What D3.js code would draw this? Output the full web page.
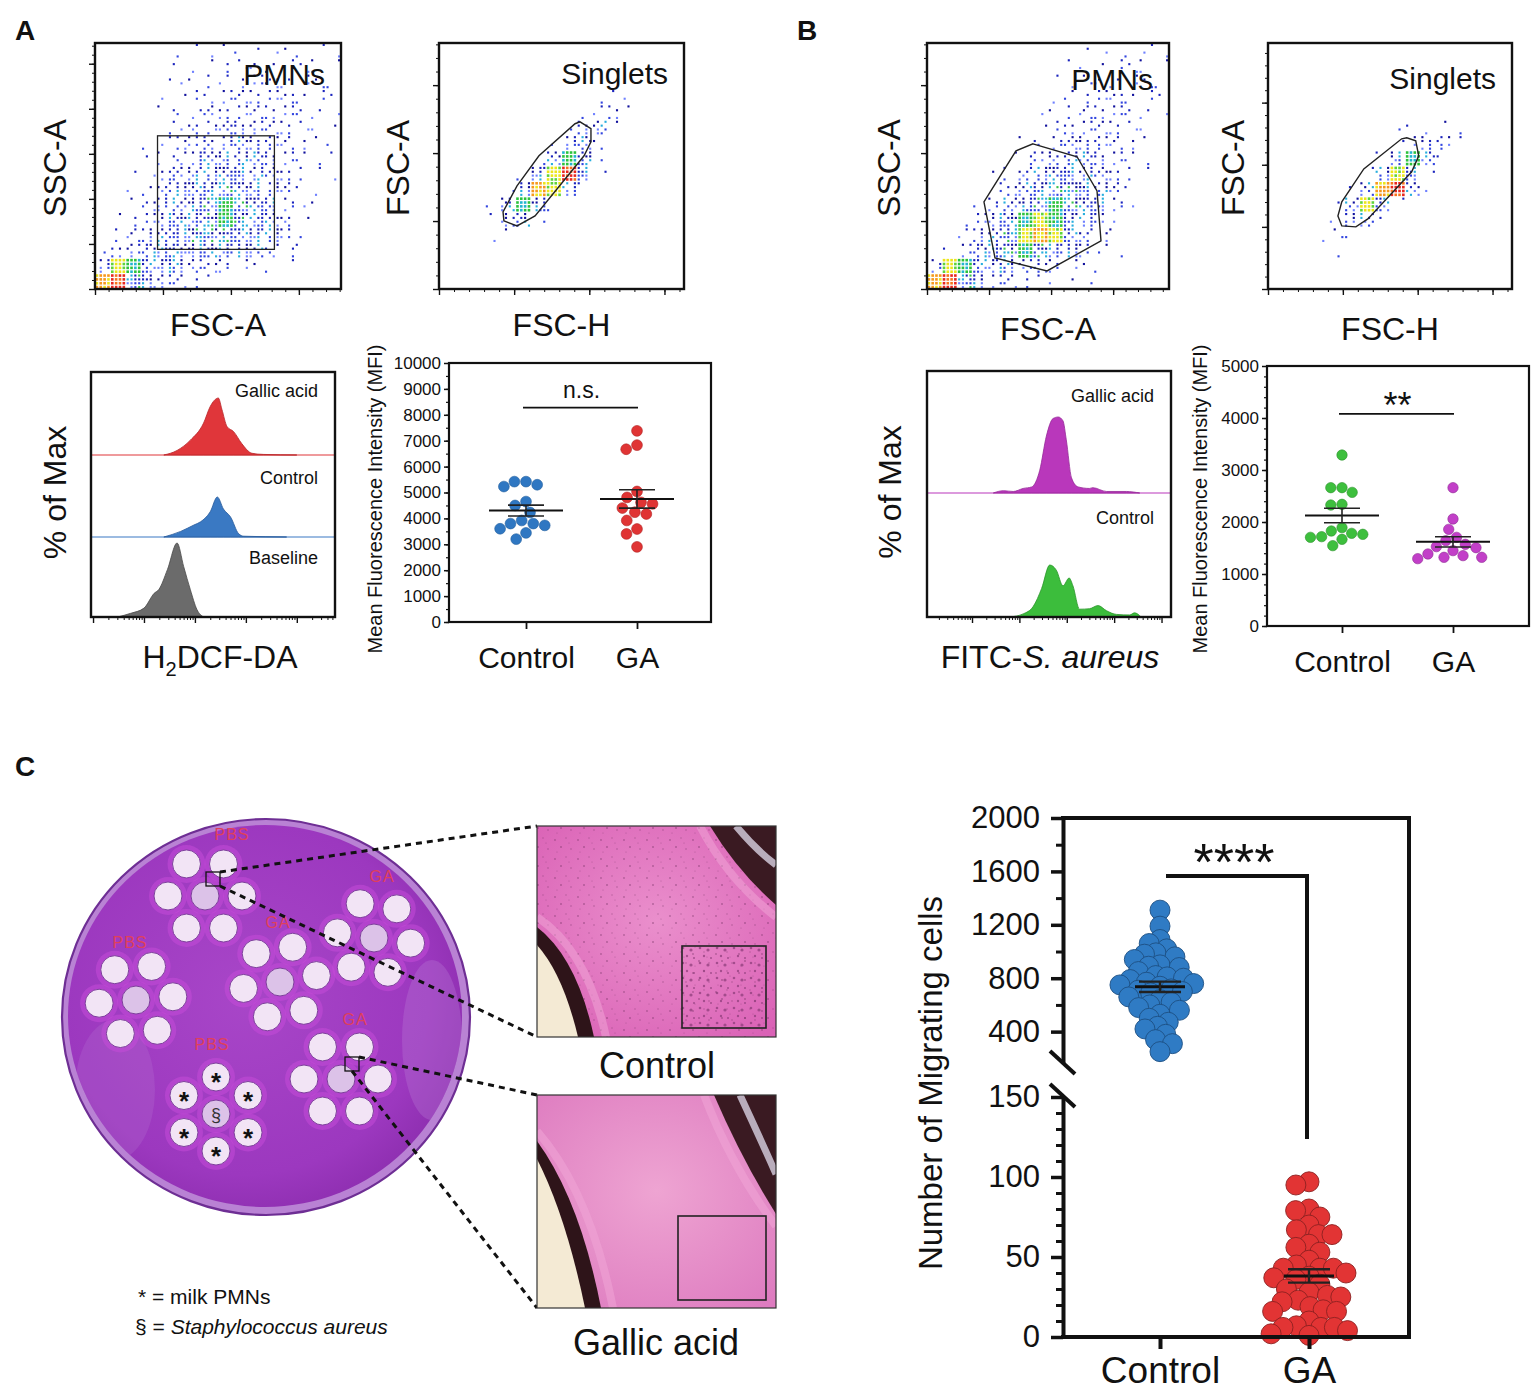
<!DOCTYPE html>
<html>
<head>
<meta charset="utf-8">
<title>Gallic acid and bovine milk PMNs</title>
<script src="https://cdn.jsdelivr.net/npm/d3@7"></script>
<style>
  body { margin: 0; background: #fff; }
  svg { display: block; font-family: "Liberation Sans", Arial, Helvetica, sans-serif; }
</style>
</head>
<body>
<div id="chart"></div>
<script>
// ---------------- data ----------------
var groups = ["Control", "GA"];

// A: H2DCF-DA mean fluorescence intensity
var rosControl = [5420, 5300, 5230, 5420, 4500, 4650, 4230, 3800, 3920, 3800, 3730, 3600, 3440, 3200];
var rosGA = [7380, 6670, 6830, 4810, 5040, 4560, 4620, 4400, 4240, 4170, 3920, 3590, 3400, 2900];
var rosTicks = [0, 1000, 2000, 3000, 4000, 5000, 6000, 7000, 8000, 9000, 10000];

// B: FITC-S. aureus mean fluorescence intensity
var phagoControl = [3288, 2570, 2660, 2660, 2327, 2340, 1827, 1763, 1705, 1891, 1782, 1718, 1667, 1545];
var phagoGA = [2660, 2058, 1859, 1705, 1641, 1571, 1506, 1526, 1449, 1385, 1353, 1321, 1295, 1321];
var phagoTicks = [0, 1000, 2000, 3000, 4000, 5000];

// C: number of migrating cells
var migControl = [1310, 1190, 1090, 1060, 1020, 990, 980, 960, 940, 900, 890, 880, 850, 820, 810, 800, 790, 770, 760, 750,
                  740, 720, 710, 700, 690, 660, 640, 620, 600, 580, 560, 530, 500, 470, 440, 420, 380, 340, 310, 250];
var migGA = [97, 95, 80, 79, 75, 70, 67, 64, 64, 58, 56, 53, 48, 45, 43, 43, 43, 40, 38, 37,
             36, 33, 30, 28, 26, 25, 23, 22, 19, 17, 16, 16, 10, 7, 6, 6, 6, 4, 2, 1];
var migTicksHigh = [400, 800, 1200, 1600, 2000];
var migTicksLow = [0, 50, 100, 150];

// histograms: [log10 fluorescence, fraction of max]
var histGallicA = [[2.39, 0], [2.65, 0.08], [2.91, 0.26], [3.17, 0.56], [3.30, 0.85], [3.46, 1.0], [3.53, 0.8],
                   [3.63, 0.5], [3.76, 0.41], [3.92, 0.2], [4.12, 0.03], [4.35, 0.01], [5.0, 0]];
var histControlA = [[2.39, 0], [2.72, 0.14], [2.98, 0.3], [3.11, 0.38], [3.30, 0.63], [3.44, 1.0], [3.56, 0.7],
                    [3.70, 0.5], [3.86, 0.08], [3.96, 0.02], [4.80, 0]];
var histBaselineA = [[1.48, 0], [1.74, 0.05], [2.0, 0.12], [2.20, 0.32], [2.29, 0.37], [2.46, 0.64], [2.65, 1.0],
                     [2.78, 0.68], [2.91, 0.37], [3.04, 0.1], [3.17, 0]];
var histGallicB = [[1.45, 0], [1.66, 0.03], [1.87, 0.02], [2.08, 0.06], [2.26, 0.08], [2.43, 0.3], [2.57, 0.75],
                   [2.71, 0.98], [2.82, 1.0], [2.92, 0.95], [2.99, 0.7], [3.10, 0.2], [3.24, 0.08], [3.48, 0.06],
                   [3.55, 0.07], [3.84, 0.02], [4.26, 0.02], [4.54, 0]];
var histControlB = [[1.8, 0], [2.08, 0.06], [2.29, 0.2], [2.47, 0.55], [2.64, 1.0], [2.78, 0.9], [2.92, 0.6],
                    [3.05, 0.75], [3.13, 0.6], [3.27, 0.15], [3.48, 0.16], [3.66, 0.22], [3.84, 0.12], [4.05, 0.05],
                    [4.33, 0.04], [4.43, 0.08], [4.57, 0]];

// flow cytometry event density, 16 x 16 grid, top row first
// ' ' none, 1-9 blue density, g/y/o/r = green, yellow, orange, red
var densA1 = [
  "     11111111111",
  "     11122222221",
  "    111222332221",
  "    112233333221",
  "    122333333221",
  "    123344433211",
  "   1233445443211",
  "   1234555543211",
  "  11345566543211",
  "  1245667654311 ",
  "  134567g765311 ",
  " 1235667g76531  ",
  " 2345677766531  ",
  "13456666655321  ",
  "4yg6654332111   ",
  "or864321        "
];
var densA2 = [
  "                ",
  "                ",
  "                ",
  "          111   ",
  "         1231   ",
  "        1451    ",
  "       1452     ",
  "      15g61     ",
  "     16yr61     ",
  "    15oy51      ",
  "   15g61        ",
  "   1451         ",
  "   11           ",
  "                ",
  "                ",
  "                "
];
var densB1 = [
  "          11 121",
  "         1112221",
  "        11222221",
  "        12233221",
  "       112333221",
  "       12333321 ",
  "      123444321 ",
  "     1234554321 ",
  "    12456654321 ",
  "    2356776531  ",
  "   13567g76531  ",
  "  1356gyg6531   ",
  "  2457yoy6421   ",
  " 13567g765321   ",
  "3yg655443211    ",
  "or753321111     "
];
var densB2 = [
  "                ",
  "                ",
  "                ",
  "                ",
  "                ",
  "        11111   ",
  "        12441   ",
  "       15g51    ",
  "      15y61     ",
  "     15or51     ",
  "    15y61       ",
  "    1451        ",
  "   121          ",
  "    1           ",
  "                ",
  "                "
];

// gates, in axis units (x1000)
var gateA1 = [[46, 44], [132, 170]];
var gateA2 = [[43.2, 50.1], [51.9, 46.4], [63.9, 53.8], [96.5, 98.0], [101.1, 108.3], [101.1, 117.9],
              [93.8, 123.0], [90.5, 121.6], [66.5, 98.0], [51.9, 75.9], [42.6, 56.7]];
var gateB1 = [[85.4, 106.8], [120.9, 97.3], [137.0, 72.2], [140.2, 35.4], [96.7, 13.3], [54.8, 22.8],
              [45.9, 64.1], [71.7, 101.7]];
var gateB2 = [[49.3, 50.8], [58.7, 50.0], [66.7, 56.4], [96.0, 94.3], [100.7, 107.2], [98.7, 119.2],
              [92.7, 121.7], [89.3, 120.9], [64.0, 96.7], [49.3, 70.1], [46.7, 58.8]];
var flowTicks = [0, 50, 100, 150, 200, 250];

// ---------------- setup ----------------
var svg = d3.select("#chart").append("svg").attr("width", 1536).attr("height", 1394);
var defs = svg.append("defs");
var plain = d3.format("d");

function label(x, y, s, size, anchor, rot) {
  var t = svg.append("text").attr("x", x).attr("y", y).attr("font-size", size)
    .attr("text-anchor", anchor || "middle").attr("fill", "#111").text(s);
  if (rot) t.attr("transform", "rotate(" + rot + "," + x + "," + y + ")");
  return t;
}

function tidy(sel, w) {
  sel.select(".domain").remove();
  sel.selectAll(".tick line").attr("stroke", "#111").attr("stroke-width", w || 1.3);
}

// panel letters
label(15, 40, "A", 28, "start").attr("font-weight", "bold");
label(797, 40, "B", 28, "start").attr("font-weight", "bold");
label(15, 776, "C", 28, "start").attr("font-weight", "bold");

// ---------------- flow dot plots ----------------
var bayer = [0, 8, 2, 10, 12, 4, 14, 6, 3, 11, 1, 9, 15, 7, 13, 5];
var slots = d3.range(16).sort(function (a, b) { return bayer[a] - bayer[b]; });
var dotsPerLevel = [0, 1, 2, 4, 6, 8, 10, 12, 14, 16];
var blues = ["#11119c", "#3346e0", "#1b24bd", "#6f80ff"];
var hot = { g: ["#2cc23c", "#22b5cf"], y: ["#ece61a", "#5fd33a"], o: ["#f6981c", "#ece61a"], r: ["#e8261e", "#f6721c"] };

function flowPlot(o) {
  var x = d3.scaleLinear().domain([0, o.xMax]).range([o.x0, o.x1]);
  var y = d3.scaleLinear().domain([0, o.yMax]).range([o.y1, o.y0]);
  var g = svg.append("g");
  var nc = 16, nr = o.dens.length;
  var cw = o.xMax / nc, rh = o.yMax / nr;
  var dots = [];
  o.dens.forEach(function (row, i) {
    row.split("").forEach(function (c, j) {
      if (c === " ") return;
      var px0 = x(j * cw), px1 = x((j + 1) * cw);
      var py0 = y(o.yMax - i * rh), py1 = y(o.yMax - (i + 1) * rh);
      var sw = (px1 - px0) / 4, sh = (py1 - py0) / 4;
      var isHot = hot[c] !== undefined;
      var n = isHot ? 16 : dotsPerLevel[+c];
      var shift = (i * 5 + j * 11) % 16;   // vary the dither start between cells
      for (var k = 0; k < n; k++) {
        var s = slots[(k + shift) % 16], col;
        if (isHot) col = hot[c][k % 3 === 2 ? 1 : 0];
        else if (+c >= 7 && k % 5 === 4) col = "#37c24a";
        else if (+c >= 5 && k % 4 === 3) col = "#27aede";
        else col = blues[(k + i + j) % 4];
        dots.push({ x: px0 + (s % 4 + 0.5) * sw, y: py0 + (Math.floor(s / 4) + 0.5) * sh, c: col, s: isHot ? 2.6 : 2.1 });
      }
    });
  });
  g.selectAll("rect.ev").data(dots).enter().append("rect")
    .attr("class", "ev")
    .attr("x", function (d) { return d.x - d.s / 2; })
    .attr("y", function (d) { return d.y - d.s / 2; })
    .attr("width", function (d) { return d.s; })
    .attr("height", function (d) { return d.s; })
    .attr("fill", function (d) { return d.c; });

  if (o.gateRect) {
    g.append("rect")
      .attr("x", x(o.gateRect[0][0])).attr("y", y(o.gateRect[1][1]))
      .attr("width", x(o.gateRect[1][0]) - x(o.gateRect[0][0]))
      .attr("height", y(o.gateRect[0][1]) - y(o.gateRect[1][1]))
      .attr("fill", "none").attr("stroke", "#222").attr("stroke-width", 1.3);
  } else {
    var line = d3.line().x(function (d) { return x(d[0]); }).y(function (d) { return y(d[1]); });
    g.append("path").attr("d", line(o.gate) + "Z")
      .attr("fill", "none").attr("stroke", "#222").attr("stroke-width", 1.4);
  }

  g.append("rect").attr("x", o.x0).attr("y", o.y0).attr("width", o.x1 - o.x0).attr("height", o.y1 - o.y0)
    .attr("fill", "none").attr("stroke", "#111").attr("stroke-width", 2.4);

  var xMajor = flowTicks.filter(function (v) { return v <= o.xMax; });
  var yMajor = flowTicks.filter(function (v) { return v <= o.yMax; });
  g.append("g").attr("transform", "translate(0," + o.y1 + ")")
    .call(d3.axisBottom(x).tickValues(d3.range(0, o.xMax, 10)).tickSize(3).tickFormat("").tickSizeOuter(0)).call(tidy, 1);
  g.append("g").attr("transform", "translate(0," + o.y1 + ")")
    .call(d3.axisBottom(x).tickValues(xMajor).tickSize(6).tickFormat("").tickSizeOuter(0)).call(tidy, 1.4);
  g.append("g").attr("transform", "translate(" + o.x0 + ",0)")
    .call(d3.axisLeft(y).tickValues(d3.range(0, o.yMax, 10)).tickSize(3).tickFormat("").tickSizeOuter(0)).call(tidy, 1);
  g.append("g").attr("transform", "translate(" + o.x0 + ",0)")
    .call(d3.axisLeft(y).tickValues(yMajor).tickSize(6).tickFormat("").tickSizeOuter(0)).call(tidy, 1.4);

  label(o.x1 - 16, o.nameY, o.name, 30, "end");
  label((o.x0 + o.x1) / 2, o.xLabY, o.xLab, 32);
  label(o.yLabX, (o.y0 + o.y1) / 2 + 2, o.yLab, 32, "middle", -90);
}

flowPlot({ x0: 95, x1: 341, y0: 43, y1: 289, xMax: 181, yMax: 273, dens: densA1, gateRect: gateA1,
  name: "PMNs", nameY: 85, xLab: "FSC-A", xLabY: 336, yLab: "SSC-A", yLabX: 66 });
flowPlot({ x0: 439, x1: 684, y0: 43, y1: 289, xMax: 163, yMax: 181, dens: densA2, gate: gateA2,
  name: "Singlets", nameY: 84, xLab: "FSC-H", xLabY: 336, yLab: "FSC-A", yLabX: 409 });
flowPlot({ x0: 927, x1: 1169, y0: 43, y1: 289, xMax: 195, yMax: 181, dens: densB1, gate: gateB1,
  name: "PMNs", nameY: 90, xLab: "FSC-A", xLabY: 340, yLab: "SSC-A", yLabX: 900 });
flowPlot({ x0: 1268, x1: 1512, y0: 43, y1: 289, xMax: 163, yMax: 198, dens: densB2, gate: gateB2,
  name: "Singlets", nameY: 89, xLab: "FSC-H", xLabY: 340, yLab: "FSC-A", yLabX: 1244 });

// ---------------- histograms ----------------
function histPanel(o) {
  var x = d3.scaleLinear().domain(o.dom).range([o.x0, o.x1]);
  var g = svg.append("g");
  defs.append("clipPath").attr("id", o.id).append("rect")
    .attr("x", o.x0).attr("y", o.y0).attr("width", o.x1 - o.x0).attr("height", o.y1 - o.y0);
  var layer = g.append("g").attr("clip-path", "url(#" + o.id + ")");
  o.tracks.forEach(function (t) {
    var y = d3.scaleLinear().domain([0, 1]).range([t.base, t.base - t.h]);
    var area = d3.area().x(function (d) { return x(d[0]); }).y0(t.base)
      .y1(function (d) { return y(d[1]); }).curve(d3.curveMonotoneX);
    if (t.line) {
      layer.append("line").attr("x1", o.x0).attr("x2", o.x1).attr("y1", t.base).attr("y2", t.base)
        .attr("stroke", t.color).attr("stroke-width", 1.2);
    }
    layer.append("path").datum(t.data).attr("d", area)
      .attr("fill", t.color).attr("stroke", t.edge).attr("stroke-width", 0.8);
    label(o.x1 - 17, t.labY, t.name, 18, "end");
  });
  g.append("rect").attr("x", o.x0).attr("y", o.y0).attr("width", o.x1 - o.x0).attr("height", o.y1 - o.y0)
    .attr("fill", "none").attr("stroke", "#111").attr("stroke-width", 2.4);
  var majors = [], minors = [];
  for (var k = 0; k <= 6; k++) {
    if (k >= o.dom[0] && k <= o.dom[1]) majors.push(k);
    for (var m = 2; m <= 9; m++) {
      var v = k + Math.log10(m);
      if (v >= o.dom[0] && v <= o.dom[1]) minors.push(v);
    }
  }
  g.append("g").attr("transform", "translate(0," + o.y1 + ")")
    .call(d3.axisBottom(x).tickValues(minors).tickSize(3).tickFormat("").tickSizeOuter(0)).call(tidy, 1);
  g.append("g").attr("transform", "translate(0," + o.y1 + ")")
    .call(d3.axisBottom(x).tickValues(majors).tickSize(6).tickFormat("").tickSizeOuter(0)).call(tidy, 1.4);
  label(o.yLabX, (o.y0 + o.y1) / 2 - 2, "% of Max", 32, "middle", -90);
}

histPanel({ id: "clipHA", x0: 91, x1: 335, y0: 372, y1: 617, dom: [0.96, 5.75], yLabX: 66,
  tracks: [
    { data: histGallicA, base: 455, h: 57, color: "#e0363a", edge: "#b8262a", line: true, name: "Gallic acid", labY: 397 },
    { data: histControlA, base: 537, h: 40, color: "#3a79c3", edge: "#285a9a", line: true, name: "Control", labY: 484 },
    { data: histBaselineA, base: 617, h: 74, color: "#6b6b6b", edge: "#4a4a4a", line: false, name: "Baseline", labY: 564 }
  ] });
histPanel({ id: "clipHB", x0: 927, x1: 1171, y0: 371, y1: 617, dom: [0.05, 5.2], yLabX: 901,
  tracks: [
    { data: histGallicB, base: 493, h: 76, color: "#b937bb", edge: "#962a98", line: true, name: "Gallic acid", labY: 402 },
    { data: histControlB, base: 617, h: 52, color: "#3cbd3c", edge: "#2a962a", line: false, name: "Control", labY: 524 }
  ] });

var h2 = label(220, 668, "", 32);
h2.append("tspan").text("H");
h2.append("tspan").attr("font-size", 20).attr("dy", 8).text("2");
h2.append("tspan").attr("dy", -8).text("DCF-DA");
var fitc = label(1050, 668, "", 32);
fitc.append("tspan").text("FITC-");
fitc.append("tspan").attr("font-style", "italic").text("S. aureus");

// ---------------- MFI dot plots ----------------
function beeswarm(values, y, diam) {
  var pts = values.map(function (v) { return { v: v, y: y(v), dx: 0 }; });
  var order = pts.slice().sort(function (a, b) { return a.y - b.y; });
  var placed = [];
  order.forEach(function (p) {
    var blocked = [];
    placed.forEach(function (q) {
      var dy = Math.abs(q.y - p.y);
      if (dy < diam) {
        var w = Math.sqrt(diam * diam - dy * dy);
        blocked.push([q.dx - w, q.dx + w]);
      }
    });
    var cands = [0];
    blocked.forEach(function (b) { cands.push(b[0], b[1]); });
    cands.sort(function (a, b) { return Math.abs(a) - Math.abs(b) || a - b; });
    for (var i = 0; i < cands.length; i++) {
      var c = cands[i];
      var ok = blocked.every(function (b) { return c <= b[0] + 1e-6 || c >= b[1] - 1e-6; });
      if (ok) { p.dx = c; break; }
    }
    placed.push(p);
  });
  return pts;
}

function meanSem(g, vals, y, cxp, halfMean, halfCap, w) {
  var m = d3.mean(vals), se = d3.deviation(vals) / Math.sqrt(vals.length);
  g.append("line").attr("x1", cxp - halfMean).attr("x2", cxp + halfMean).attr("y1", y(m)).attr("y2", y(m))
    .attr("stroke", "#111").attr("stroke-width", w);
  [m - se, m + se].forEach(function (v) {
    g.append("line").attr("x1", cxp - halfCap).attr("x2", cxp + halfCap).attr("y1", y(v)).attr("y2", y(v))
      .attr("stroke", "#222").attr("stroke-width", w * 0.8);
  });
  g.append("line").attr("x1", cxp).attr("x2", cxp).attr("y1", y(m - se)).attr("y2", y(m + se))
    .attr("stroke", "#222").attr("stroke-width", w * 0.8);
}

function dotPlot(o) {
  var x = d3.scalePoint().domain(groups).range([o.c0, o.c1]);
  var y = d3.scaleLinear().domain([0, o.yMax]).range([o.bottom, o.top]);
  var g = svg.append("g");
  g.append("rect").attr("x", o.left).attr("y", o.top).attr("width", o.right - o.left).attr("height", o.bottom - o.top)
    .attr("fill", "none").attr("stroke", "#111").attr("stroke-width", 2.2);
  g.append("g").attr("transform", "translate(" + o.left + ",0)")
    .call(d3.axisLeft(y).tickValues(d3.range(0, o.yMax, o.minor)).tickSize(3).tickFormat("").tickSizeOuter(0)).call(tidy, 1.2);
  var ay = g.append("g").attr("transform", "translate(" + o.left + ",0)")
    .call(d3.axisLeft(y).tickValues(o.ticks).tickFormat(plain).tickSize(5).tickPadding(3).tickSizeOuter(0));
  ay.call(tidy, 1.5);
  ay.selectAll("text").attr("font-size", 17).attr("font-family", null).attr("fill", "#111");
  var ax = g.append("g").attr("transform", "translate(0," + o.bottom + ")")
    .call(d3.axisBottom(x).tickSize(7).tickPadding(18).tickSizeOuter(0));
  ax.call(tidy, 1.8);
  ax.selectAll("text").attr("font-size", 30).attr("font-family", null).attr("fill", "#111");

  [o.ctrl, o.ga].forEach(function (vals, gi) {
    var cxp = x(groups[gi]);
    var pts = beeswarm(vals, y, 2 * o.r + 0.8);
    g.selectAll(null).data(pts).enter().append("circle")
      .attr("cx", function (d) { return cxp + d.dx; })
      .attr("cy", function (d) { return d.y; })
      .attr("r", o.r)
      .attr("fill", o.colors[gi]).attr("stroke", o.edges[gi]).attr("stroke-width", 0.6);
    meanSem(g, vals, y, cxp, 37, 18, 2);
  });
  g.append("line").attr("x1", x("Control") - 3).attr("x2", x("GA") + 1).attr("y1", y(o.barAt)).attr("y2", y(o.barAt))
    .attr("stroke", "#111").attr("stroke-width", 1.8);
  label((x("Control") + x("GA")) / 2, o.sigY, o.sig, o.sigSize);
  label(o.titleX, 499, "Mean Fluorescence Intensity (MFI)", 20, "middle", -90);
}

dotPlot({ left: 449, right: 711, top: 363, bottom: 622, c0: 526, c1: 637, yMax: 10000, ticks: rosTicks, minor: 500,
  ctrl: rosControl, ga: rosGA, r: 5.4, colors: ["#2f77c2", "#e03434"], edges: ["#235f9e", "#b02424"],
  barAt: 8280, sig: "n.s.", sigY: 398, sigSize: 23, titleX: 382 });
dotPlot({ left: 1267, right: 1529, top: 366, bottom: 626, c0: 1342, c1: 1453, yMax: 5000, ticks: phagoTicks, minor: 200,
  ctrl: phagoControl, ga: phagoGA, r: 5.2, colors: ["#3dbf3d", "#c23fc8"], edges: ["#2a902a", "#8e2c94"],
  barAt: 4080, sig: "**", sigY: 418, sigSize: 36, titleX: 1207 });

// ---------------- C: migrating cells ----------------
var cxs = d3.scalePoint().domain(groups).range([1160, 1309]);
var yHigh = d3.scaleLinear().domain([165, 2000]).range([1063, 818]);
var yLow = d3.scaleLinear().domain([0, 150]).range([1337, 1097]);
var gc = svg.append("g");

[[migControl, yHigh, "#2f7bc4", "#1d4f82", 11.5], [migGA, yLow, "#e23434", "#8c2020", 13.5]].forEach(function (s, gi) {
  var cxp = cxs(groups[gi]);
  var pts = beeswarm(s[0], s[1], s[4]);
  gc.selectAll(null).data(pts).enter().append("circle")
    .attr("cx", function (d) { return cxp + d.dx; })
    .attr("cy", function (d) { return d.y; })
    .attr("r", 10)
    .attr("fill", s[2]).attr("stroke", s[3]).attr("stroke-width", 0.9);
  meanSem(gc, s[0], s[1], cxp, 25, 21, 3);
});

gc.append("path").attr("d", "M1063,818H1409V1337H1063")
  .attr("fill", "none").attr("stroke", "#111").attr("stroke-width", 4).attr("stroke-linecap", "square");

var axHigh = gc.append("g").attr("transform", "translate(1063,0)")
  .call(d3.axisLeft(yHigh).tickValues(migTicksHigh).tickFormat(plain).tickSize(12).tickPadding(11).tickSizeOuter(0));
var axLow = gc.append("g").attr("transform", "translate(1063,0)")
  .call(d3.axisLeft(yLow).tickValues(migTicksLow).tickFormat(plain).tickSize(12).tickPadding(11).tickSizeOuter(0));
[axHigh, axLow].forEach(function (a) {
  a.select(".domain").attr("stroke", "#111").attr("stroke-width", 4);
  a.selectAll(".tick line").attr("stroke", "#111").attr("stroke-width", 3.5);
  a.selectAll("text").attr("font-size", 31).attr("font-family", null).attr("fill", "#111");
});
gc.append("g").attr("transform", "translate(1063,0)")
  .call(d3.axisLeft(yHigh).tickValues([600, 1000, 1400, 1800]).tickSize(7).tickFormat("").tickSizeOuter(0)).call(tidy, 3);
gc.append("g").attr("transform", "translate(1063,0)")
  .call(d3.axisLeft(yLow).tickValues(d3.range(10, 150, 10).filter(function (v) { return v % 50 !== 0; }))
    .tickSize(7).tickFormat("").tickSizeOuter(0)).call(tidy, 3);

// axis break marks
[[1051, 1074], [1084, 1107]].forEach(function (b) {
  gc.append("line").attr("x1", 1050).attr("x2", 1075).attr("y1", b[0]).attr("y2", b[1])
    .attr("stroke", "#111").attr("stroke-width", 4);
});

var axC = gc.append("g").attr("transform", "translate(0,1337)")
  .call(d3.axisBottom(cxs).tickSize(12).tickPadding(8).tickSizeOuter(0));
axC.call(tidy, 4);
axC.selectAll("text").attr("font-size", 37).attr("font-family", null).attr("fill", "#111");

gc.append("path").attr("d", "M1166,876H1307V1139").attr("fill", "none").attr("stroke", "#111").attr("stroke-width", 4);
label(1234, 880, "****", 52);
label(942, 1083, "Number of Migrating cells", 33, "middle", -90);

// ---------------- C: chemotaxis plate (illustration) ----------------
var rg = defs.append("radialGradient").attr("id", "dishFill").attr("cx", "45%").attr("cy", "45%").attr("r", "62%");
rg.append("stop").attr("offset", "0%").attr("stop-color", "#a846c8");
rg.append("stop").attr("offset", "75%").attr("stop-color", "#9c38bf");
rg.append("stop").attr("offset", "100%").attr("stop-color", "#8a2cac");
defs.append("clipPath").attr("id", "dishClip").append("ellipse")
  .attr("cx", 265).attr("cy", 1016).attr("rx", 197).attr("ry", 191);

var plate = svg.append("g");
plate.append("ellipse").attr("cx", 266).attr("cy", 1017).attr("rx", 204).attr("ry", 198)
  .attr("fill", "#b982d4").attr("stroke", "#6e2e94").attr("stroke-width", 2.2);
plate.append("ellipse").attr("cx", 265).attr("cy", 1016).attr("rx", 197).attr("ry", 191).attr("fill", "url(#dishFill)");
var sheen = plate.append("g").attr("clip-path", "url(#dishClip)");
sheen.append("ellipse").attr("cx", 432).attr("cy", 1040).attr("rx", 30).attr("ry", 80)
  .attr("fill", "#b878d4").attr("opacity", 0.35);
sheen.append("ellipse").attr("cx", 115).attr("cy", 1090).attr("rx", 40).attr("ry", 70)
  .attr("fill", "#b878d4").attr("opacity", 0.25);

var wellGroups = [
  { cx: 205, cy: 896, rot: 0, tag: "PBS", tx: 232, ty: 840 },
  { cx: 374, cy: 938, rot: 8, tag: "GA", tx: 382, ty: 882 },
  { cx: 136, cy: 1000, rot: -5, tag: "PBS", tx: 130, ty: 948 },
  { cx: 280, cy: 982, rot: -10, tag: "GA", tx: 278, ty: 928 },
  { cx: 341, cy: 1079, rot: 0, tag: "GA", tx: 355, ty: 1025 },
  { cx: 216, cy: 1114, rot: 30, tag: "PBS", tx: 212, ty: 1050, marks: true }
];
wellGroups.forEach(function (wg) {
  var wells = [{ x: wg.cx, y: wg.cy, mid: true }];
  for (var k = 0; k < 6; k++) {
    var a = (wg.rot + k * 60) * Math.PI / 180;
    wells.push({ x: wg.cx + 37 * Math.cos(a), y: wg.cy + 37 * Math.sin(a), mid: false });
  }
  wells.forEach(function (w) {
    plate.append("circle").attr("cx", w.x).attr("cy", w.y).attr("r", 19).attr("fill", "#c84cda").attr("opacity", 0.5);
  });
  wells.forEach(function (w) {
    plate.append("circle").attr("cx", w.x).attr("cy", w.y).attr("r", 14)
      .attr("fill", w.mid ? "#dcc2e8" : "#f2e4f5").attr("stroke", "#7e3f9c").attr("stroke-width", 1);
    if (wg.marks) {
      if (w.mid) plate.append("text").attr("x", w.x).attr("y", w.y + 7).attr("text-anchor", "middle")
        .attr("font-size", 18).attr("fill", "#333").text("§");
      else plate.append("text").attr("x", w.x).attr("y", w.y + 14).attr("text-anchor", "middle")
        .attr("font-size", 26).attr("font-weight", "bold").attr("fill", "#111").text("*");
    }
  });
  plate.append("text").attr("x", wg.tx).attr("y", wg.ty).attr("text-anchor", "middle")
    .attr("font-size", 16).attr("letter-spacing", 1).attr("fill", "#e0405a").text(wg.tag);
});

// selected regions on plate and zoom lines
plate.append("rect").attr("x", 206).attr("y", 872).attr("width", 14).attr("height", 14)
  .attr("fill", "none").attr("stroke", "#111").attr("stroke-width", 1.3);
plate.append("rect").attr("x", 345).attr("y", 1057).attr("width", 14).attr("height", 14)
  .attr("fill", "none").attr("stroke", "#111").attr("stroke-width", 1.3);
[[220, 872, 537, 826], [220, 886, 537, 1037], [359, 1057, 537, 1095], [352, 1071, 537, 1308]].forEach(function (l) {
  plate.append("line").attr("x1", l[0]).attr("y1", l[1]).attr("x2", l[2]).attr("y2", l[3])
    .attr("stroke", "#111").attr("stroke-width", 3).attr("stroke-dasharray", "6,5");
});

// micrographs: pink membrane between two dark well edges
var pinkGrad = defs.append("radialGradient").attr("id", "pinkGrad").attr("cx", "50%").attr("cy", "45%").attr("r", "70%");
pinkGrad.append("stop").attr("offset", "0%").attr("stop-color", "#ea8fcc");
pinkGrad.append("stop").attr("offset", "100%").attr("stop-color", "#da62b6");
var pinkGrad2 = defs.append("radialGradient").attr("id", "pinkGrad2").attr("cx", "50%").attr("cy", "45%").attr("r", "70%");
pinkGrad2.append("stop").attr("offset", "0%").attr("stop-color", "#eea4d2");
pinkGrad2.append("stop").attr("offset", "100%").attr("stop-color", "#de7cc0");
var speck = defs.append("pattern").attr("id", "specks").attr("patternUnits", "userSpaceOnUse")
  .attr("width", 23).attr("height", 19);
[[3, 4, 0.9], [14, 2, 0.7], [9, 11, 1.0], [19, 13, 0.8], [5, 16, 0.6], [17, 7, 0.6]].forEach(function (p) {
  speck.append("circle").attr("cx", p[0]).attr("cy", p[1]).attr("r", p[2]).attr("fill", "#6a2a5a").attr("opacity", 0.75);
});
var speckBig = defs.append("pattern").attr("id", "specksBig").attr("patternUnits", "userSpaceOnUse")
  .attr("width", 17).attr("height", 15);
[[3, 3, 1.3], [11, 5, 1.6], [7, 11, 1.2], [14, 13, 1.0]].forEach(function (p) {
  speckBig.append("circle").attr("cx", p[0]).attr("cy", p[1]).attr("r", p[2]).attr("fill", "#8a3a78").attr("opacity", 0.7);
});

function micrograph(id, x0, y0, w, h, fill, tr, bl, specks) {
  var x1 = x0 + w, y1 = y0 + h;
  defs.append("clipPath").attr("id", id).append("rect").attr("x", x0).attr("y", y0).attr("width", w).attr("height", h);
  var g = svg.append("g").attr("clip-path", "url(#" + id + ")");
  g.append("rect").attr("x", x0).attr("y", y0).attr("width", w).attr("height", h).attr("fill", fill);
  if (specks) g.append("rect").attr("x", x0).attr("y", y0).attr("width", w).attr("height", h).attr("fill", "url(#specks)").attr("opacity", 0.55);
  // top-right well edge: tr = [x at top, ctrl x, ctrl y, y at right edge]
  var trPath = "M" + tr[0] + "," + y0 + "Q" + tr[1] + "," + tr[2] + " " + x1 + "," + tr[3];
  g.append("path").attr("d", trPath + "L" + x1 + "," + y0 + "Z").attr("fill", "#3a1a22");
  g.append("path").attr("d", "M" + (tr[0] + 26) + "," + y0 + "Q" + (tr[1] + 18) + "," + (tr[2] - 22) + " " + x1 + "," + (tr[3] - 40))
    .attr("fill", "none").attr("stroke", "#d9d2e4").attr("stroke-width", 7).attr("opacity", 0.8);
  g.append("path").attr("d", "M" + (tr[0] - 10) + "," + y0 + "Q" + (tr[1] - 10) + "," + (tr[2] + 8) + " " + x1 + "," + (tr[3] + 12))
    .attr("fill", "none").attr("stroke", "#f2a8d8").attr("stroke-width", 8).attr("opacity", 0.5);
  // bottom-left well edge: bl = [y at left edge, ctrl x, ctrl y, x at bottom]
  var blPath = "M" + x0 + "," + bl[0] + "Q" + bl[1] + "," + bl[2] + " " + bl[3] + "," + y1;
  g.append("path").attr("d", blPath + "L" + x0 + "," + y1 + "Z").attr("fill", "#2e1419");
  g.append("path").attr("d", "M" + x0 + "," + (bl[0] + 18) + "Q" + (bl[1] - 14) + "," + (bl[2] + 16) + " " + (bl[3] - 16) + "," + y1 + "L" + x0 + "," + y1 + "Z")
    .attr("fill", "#f4ead4");
  g.append("path").attr("d", "M" + x0 + "," + (bl[0] - 10) + "Q" + (bl[1] + 10) + "," + (bl[2] - 8) + " " + (bl[3] + 12) + "," + y1)
    .attr("fill", "none").attr("stroke", "#f2a8d8").attr("stroke-width", 8).attr("opacity", 0.5);
  svg.append("rect").attr("x", x0).attr("y", y0).attr("width", w).attr("height", h)
    .attr("fill", "none").attr("stroke", "#333").attr("stroke-width", 1.2);
}
micrograph("mcCtrl", 537, 826, 239, 211, "url(#pinkGrad)", [710, 738, 872, 905], [927, 577, 958, 594], true);
micrograph("mcGA", 537, 1095, 239, 213, "url(#pinkGrad2)", [714, 742, 1160, 1214], [1141, 580, 1200, 601], false);
svg.append("rect").attr("x", 682).attr("y", 946).attr("width", 84).attr("height", 82)
  .attr("fill", "url(#specksBig)").attr("stroke", "#222").attr("stroke-width", 1.6);
svg.append("rect").attr("x", 678).attr("y", 1216).attr("width", 88).attr("height", 84)
  .attr("fill", "none").attr("stroke", "#222").attr("stroke-width", 1.6);

label(657, 1078, "Control", 36);
label(656, 1355, "Gallic acid", 36);
label(138, 1304, "* = milk PMNs", 21, "start");
var leg = label(135, 1334, "§ = ", 21, "start");
leg.append("tspan").attr("font-style", "italic").text("Staphylococcus aureus");
</script>
</body>
</html>
